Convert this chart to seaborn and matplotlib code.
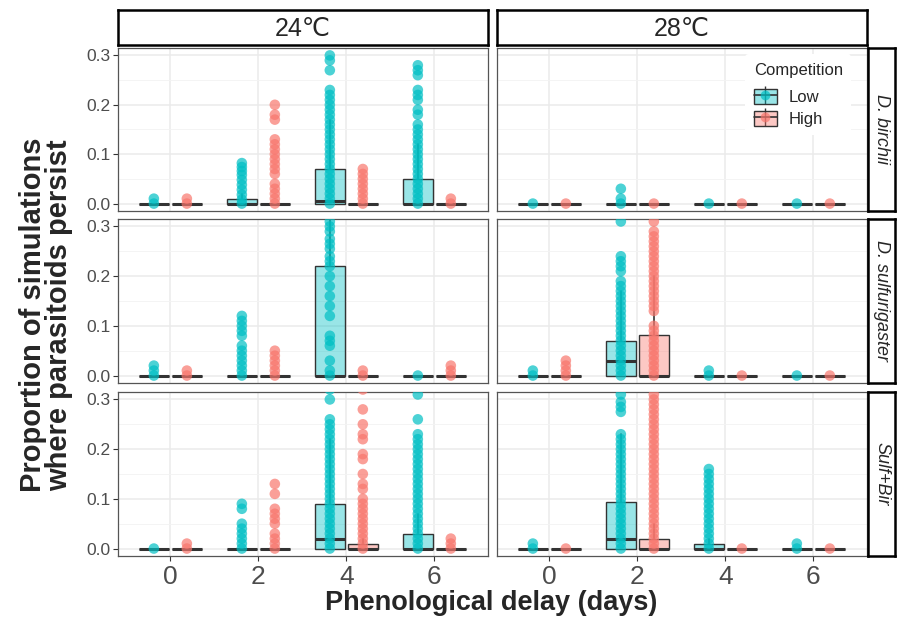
import pandas as pd
import matplotlib
matplotlib.use("Agg")
import matplotlib.pyplot as plt
import seaborn as sns
from matplotlib.colors import to_rgba
from matplotlib.patches import Patch
from matplotlib.lines import Line2D

sns.set_style("white")
plt.rcParams["font.family"] = ["Liberation Sans", "DejaVu Sans"]

# categories
delays = [0, 2, 4, 6]
temps = ["24℃", "28℃"]
species = ["D. birchii", "D. sulfurigaster", "Sulf+Bir"]
competition = ["Low", "High"]
palette = {"Low": "#00BFC4", "High": "#F8766D"}

# simulation outcomes shown as points, one list per delay (0, 2, 4, 6)
birchii_24_low_pts = [
    [0, 0.01],
    [0, 0.008, 0.018, 0.028, 0.038, 0.048, 0.058, 0.066, 0.074, 0.082],
    [0, 0.01, 0.02, 0.03, 0.04, 0.05, 0.06, 0.07, 0.08, 0.09, 0.10, 0.11, 0.12, 0.13,
     0.14, 0.15, 0.16, 0.17, 0.18, 0.19, 0.20, 0.21, 0.22, 0.23, 0.27, 0.29, 0.30],
    [0, 0.01, 0.02, 0.03, 0.04, 0.05, 0.06, 0.07, 0.08, 0.09, 0.10, 0.11, 0.12, 0.13,
     0.14, 0.15, 0.16, 0.18, 0.19, 0.21, 0.22, 0.23, 0.26, 0.27, 0.28],
]
birchii_24_high_pts = [
    [0, 0.01],
    [0, 0.01, 0.02, 0.03, 0.04, 0.06, 0.07, 0.08, 0.09, 0.10, 0.11, 0.12, 0.13, 0.17, 0.18, 0.20],
    [0, 0.01, 0.02, 0.03, 0.04, 0.05, 0.06, 0.07],
    [0, 0.01],
]
birchii_28_low_pts = [[0], [0, 0.01, 0.03], [0], [0]]
birchii_28_high_pts = [[0], [0], [0], [0]]

sulf_24_low_pts = [
    [0, 0.01, 0.02],
    [0, 0.01, 0.02, 0.03, 0.04, 0.05, 0.06, 0.08, 0.09, 0.10, 0.11, 0.12],
    [0, 0.01, 0.03, 0.06, 0.07, 0.08, 0.12, 0.14, 0.16, 0.18, 0.20, 0.22, 0.23, 0.24,
     0.255, 0.265, 0.275, 0.29, 0.30, 0.31],
    [0],
]
sulf_24_high_pts = [[0, 0.01], [0, 0.01, 0.02, 0.03, 0.04, 0.05], [0, 0.01], [0, 0.01, 0.02]]
sulf_28_low_pts = [
    [0, 0.01],
    [0, 0.01, 0.02, 0.03, 0.04, 0.05, 0.06, 0.07, 0.08, 0.09, 0.10, 0.11, 0.12, 0.13,
     0.14, 0.15, 0.16, 0.17, 0.18, 0.19, 0.21, 0.22, 0.23, 0.24, 0.31],
    [0, 0.01],
    [0],
]
sulf_28_high_pts = [
    [0, 0.01, 0.02, 0.03],
    [0, 0.01, 0.02, 0.03, 0.04, 0.05, 0.06, 0.07, 0.08, 0.09, 0.10, 0.13, 0.14, 0.15,
     0.16, 0.17, 0.18, 0.19, 0.20, 0.21, 0.22, 0.23, 0.24, 0.25, 0.26, 0.27, 0.28, 0.29, 0.31],
    [0],
    [0],
]

sulfbir_24_low_pts = [
    [0],
    [0, 0.01, 0.02, 0.03, 0.04, 0.05, 0.08, 0.09],
    [0, 0.01, 0.02, 0.03, 0.04, 0.05, 0.06, 0.07, 0.08, 0.09, 0.10, 0.11, 0.12, 0.13,
     0.14, 0.15, 0.16, 0.17, 0.18, 0.19, 0.20, 0.21, 0.22, 0.23, 0.24, 0.25, 0.26, 0.30, 0.32],
    [0, 0.01, 0.02, 0.03, 0.04, 0.05, 0.06, 0.07, 0.08, 0.09, 0.10, 0.11, 0.12, 0.13,
     0.14, 0.15, 0.16, 0.17, 0.18, 0.19, 0.20, 0.21, 0.22, 0.23, 0.26, 0.31],
]
sulfbir_24_high_pts = [
    [0, 0.01],
    [0, 0.01, 0.02, 0.03, 0.05, 0.06, 0.07, 0.08, 0.11, 0.13],
    [0, 0.01, 0.02, 0.03, 0.04, 0.05, 0.06, 0.07, 0.08, 0.09, 0.10, 0.12, 0.13, 0.15,
     0.18, 0.19, 0.22, 0.23, 0.25, 0.28, 0.32],
    [0, 0.01, 0.02],
]
sulfbir_28_low_pts = [
    [0, 0.01],
    [0, 0.01, 0.02, 0.03, 0.04, 0.05, 0.06, 0.07, 0.08, 0.09, 0.10, 0.11, 0.12, 0.13,
     0.14, 0.15, 0.16, 0.17, 0.18, 0.19, 0.20, 0.21, 0.22, 0.23, 0.275, 0.285, 0.295, 0.31],
    [0, 0.01, 0.02, 0.03, 0.04, 0.05, 0.06, 0.07, 0.08, 0.09, 0.10, 0.11, 0.12, 0.13,
     0.14, 0.15, 0.16],
    [0, 0.01],
]
sulfbir_28_high_pts = [
    [0],
    [0, 0.01, 0.02, 0.03, 0.04, 0.05, 0.06, 0.07, 0.08, 0.09, 0.10, 0.11, 0.12, 0.13,
     0.14, 0.15, 0.16, 0.17, 0.18, 0.19, 0.20, 0.21, 0.22, 0.23, 0.24, 0.25, 0.26, 0.27,
     0.28, 0.29, 0.30, 0.31],
    [0],
    [0],
]

# box summaries per delay: (q1, median, q3, upper whisker); lower whisker is 0
birchii_24_low_box = [(0, 0, 0, 0), (0, 0, 0.01, 0.02), (0, 0.005, 0.07, 0.17), (0, 0, 0.05, 0.12)]
birchii_24_high_box = [(0, 0, 0, 0), (0, 0, 0, 0), (0, 0, 0, 0), (0, 0, 0, 0)]
birchii_28_low_box = [(0, 0, 0, 0), (0, 0, 0, 0), (0, 0, 0, 0), (0, 0, 0, 0)]
birchii_28_high_box = [(0, 0, 0, 0), (0, 0, 0, 0), (0, 0, 0, 0), (0, 0, 0, 0)]
sulf_24_low_box = [(0, 0, 0, 0), (0, 0, 0, 0), (0, 0, 0.22, 0.5), (0, 0, 0, 0)]
sulf_24_high_box = [(0, 0, 0, 0), (0, 0, 0, 0), (0, 0, 0, 0), (0, 0, 0, 0)]
sulf_28_low_box = [(0, 0, 0, 0), (0, 0.03, 0.07, 0.17), (0, 0, 0, 0), (0, 0, 0, 0)]
sulf_28_high_box = [(0, 0, 0, 0), (0, 0, 0.082, 0.20), (0, 0, 0, 0), (0, 0, 0, 0)]
sulfbir_24_low_box = [(0, 0, 0, 0), (0, 0, 0, 0), (0, 0.02, 0.09, 0.22), (0, 0, 0.03, 0.07)]
sulfbir_24_high_box = [(0, 0, 0, 0), (0, 0, 0, 0), (0, 0, 0.01, 0.02), (0, 0, 0, 0)]
sulfbir_28_low_box = [(0, 0, 0, 0), (0, 0.02, 0.093, 0.23), (0, 0, 0.01, 0.02), (0, 0, 0, 0)]
sulfbir_28_high_box = [(0, 0, 0, 0), (0, 0, 0.02, 0.05), (0, 0, 0, 0), (0, 0, 0, 0)]

points = {
    ("D. birchii", "24℃"): (birchii_24_low_pts, birchii_24_high_pts),
    ("D. birchii", "28℃"): (birchii_28_low_pts, birchii_28_high_pts),
    ("D. sulfurigaster", "24℃"): (sulf_24_low_pts, sulf_24_high_pts),
    ("D. sulfurigaster", "28℃"): (sulf_28_low_pts, sulf_28_high_pts),
    ("Sulf+Bir", "24℃"): (sulfbir_24_low_pts, sulfbir_24_high_pts),
    ("Sulf+Bir", "28℃"): (sulfbir_28_low_pts, sulfbir_28_high_pts),
}
boxes = {
    ("D. birchii", "24℃"): (birchii_24_low_box, birchii_24_high_box),
    ("D. birchii", "28℃"): (birchii_28_low_box, birchii_28_high_box),
    ("D. sulfurigaster", "24℃"): (sulf_24_low_box, sulf_24_high_box),
    ("D. sulfurigaster", "28℃"): (sulf_28_low_box, sulf_28_high_box),
    ("Sulf+Bir", "24℃"): (sulfbir_24_low_box, sulfbir_24_high_box),
    ("Sulf+Bir", "28℃"): (sulfbir_28_low_box, sulfbir_28_high_box),
}

dodge = {"Low": -0.375, "High": 0.375}
box_w = 0.68

# long table of points
rows = []
for (sp, t), pair in points.items():
    for comp, lists in zip(competition, pair):
        for d, vals in zip(delays, lists):
            for v in vals:
                rows.append({"species": sp, "temp": t, "comp": comp, "delay": d,
                             "xpos": d + dodge[comp], "value": v})
df = pd.DataFrame(rows)

# figure layout in pixels
W, H = 898, 619
fig = plt.figure(figsize=(W / 100, H / 100), dpi=100)


def px(x0, y0, x1, y1):
    return [x0 / W, 1 - y1 / H, (x1 - x0) / W, (y1 - y0) / H]


cols_px = [(118, 488), (497, 867)]
rows_px = [(48, 211), (219, 383), (392, 556)]
dark = "#333333"

for i, sp in enumerate(species):
    for j, t in enumerate(temps):
        ax = fig.add_axes(px(cols_px[j][0], rows_px[i][0], cols_px[j][1], rows_px[i][1]))
        sub = df[(df.species == sp) & (df.temp == t)]

        # boxes
        for comp, bstats in zip(competition, boxes[(sp, t)]):
            stats = [dict(q1=b[0], med=b[1], q3=b[2], whislo=0, whishi=b[3], fliers=[])
                     for b in bstats]
            ax.bxp(stats, positions=[d + dodge[comp] for d in delays], widths=box_w,
                   patch_artist=True, showfliers=False, showcaps=False, manage_ticks=False,
                   boxprops=dict(facecolor=to_rgba(palette[comp], 0.4), edgecolor=dark, linewidth=1),
                   medianprops=dict(color=dark, linewidth=2.2),
                   whiskerprops=dict(color=dark, linewidth=1.2), zorder=2)

        sns.scatterplot(data=sub, x="xpos", y="value", hue="comp", hue_order=competition,
                        palette=palette, s=58, alpha=0.7, linewidth=0, legend=False,
                        ax=ax, zorder=3)

        ax.set_xlim(-1.19, 7.22)
        ax.set_ylim(-0.015, 0.315)
        ax.set_xticks(delays)
        ax.set_yticks([0, 0.1, 0.2, 0.3])
        ax.set_yticks([0.05, 0.15, 0.25], minor=True)
        ax.grid(True, which="major", color="#EBEBEB", linewidth=1.1)
        ax.grid(True, which="minor", axis="y", color="#F3F3F3", linewidth=0.6)
        ax.set_axisbelow(True)
        for s in ax.spines.values():
            s.set_color("#555555")
            s.set_linewidth(0.9)
        ax.set_xlabel("")
        ax.set_ylabel("")
        ax.tick_params(which="minor", length=0)
        if j == 0:
            ax.set_yticklabels(["0.0", "0.1", "0.2", "0.3"])
            ax.tick_params(axis="y", length=3.5, width=0.8, color=dark, labelsize=12.5,
                           labelcolor="#4D4D4D", pad=2, left=True)
        else:
            ax.tick_params(axis="y", left=False, labelleft=False)
        if i == 2:
            ax.set_xticklabels([str(d) for d in delays])
            ax.tick_params(axis="x", length=3.5, width=0.8, color=dark, labelsize=19,
                           labelcolor="#4D4D4D", pad=3, bottom=True)
        else:
            ax.tick_params(axis="x", bottom=False, labelbottom=False)

        if i == 0 and j == 1:
            handles = [(Line2D([], [], marker="|", linestyle="", color=dark, markersize=13,
                               markeredgewidth=1),
                        Patch(facecolor=to_rgba(palette[c], 0.4), edgecolor=dark, linewidth=1),
                        Line2D([], [], color=dark, linewidth=1.2),
                        Line2D([], [], marker="o", linestyle="", color=palette[c], alpha=0.7,
                               markersize=7, markeredgewidth=0))
                       for c in competition]
            leg = ax.legend(handles, competition, title="Competition", loc="upper left",
                            bbox_to_anchor=(737 / W, 1 - 46 / H), bbox_transform=fig.transFigure,
                            frameon=True, fontsize=12, title_fontsize=12, handlelength=1.4,
                            handleheight=1.0, handletextpad=0.7, labelspacing=0.35,
                            borderpad=0.5)
            leg._legend_box.sep = 8
            leg.get_frame().set_edgecolor("none")
            leg.get_frame().set_facecolor("white")
            leg.get_frame().set_alpha(1)
            leg._legend_box.align = "left"

        # right strip with species name
        if j == 1:
            sax = fig.add_axes(px(868, rows_px[i][0], 895, rows_px[i][1]))
            sax.set_xticks([])
            sax.set_yticks([])
            for s in sax.spines.values():
                s.set_color("black")
                s.set_linewidth(1.8)
            sax.text(0.5, 0.5, sp, rotation=-90, ha="center", va="center", fontsize=13,
                     style="italic", transform=sax.transAxes)

# top strips with temperature
for j, t in enumerate(temps):
    tax = fig.add_axes(px(cols_px[j][0], 10, cols_px[j][1], 45))
    tax.set_xticks([])
    tax.set_yticks([])
    for s in tax.spines.values():
        s.set_color("black")
        s.set_linewidth(1.8)
    tax.text(0.5, 0.47, t, ha="center", va="center", fontsize=18, transform=tax.transAxes)

fig.text(491 / W, 1 - 603 / H, "Phenological delay (days)", ha="center", va="center",
         fontsize=19.5, fontweight="bold")
fig.text(46 / W, 1 - 315 / H, "Proportion of simulations\nwhere parasitoids persist",
         rotation=90, ha="center", va="center", fontsize=21, fontweight="bold",
         linespacing=0.92)

fig.savefig("out.png", dpi=100)
